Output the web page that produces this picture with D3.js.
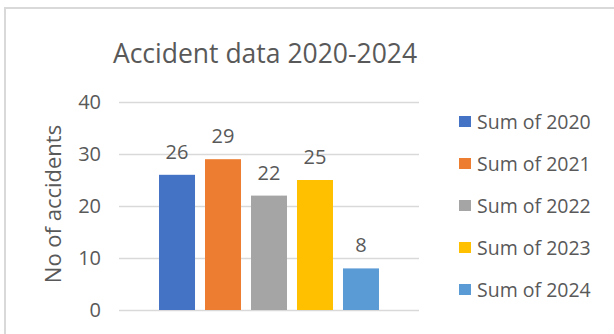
<!DOCTYPE html>
<html>
<head>
<meta charset="utf-8">
<script src="https://cdn.jsdelivr.net/npm/d3@7"></script>
<style>
html,body{margin:0;padding:0;background:#fff;overflow:hidden;}
svg{display:block;}
text{font-family:"Open Sans",sans-serif;fill:#595959;}
</style>
</head>
<body>
<svg id="chart" width="614" height="334"></svg>
<script>
const title = "Accident data 2020-2024";
const yAxisTitle = "No of accidents";
const seriesNames = ["Sum of 2020","Sum of 2021","Sum of 2022","Sum of 2023","Sum of 2024"];
const seriesValues = [26, 29, 22, 25, 8];
const seriesColors = ["#4472C4","#ED7D31","#A5A5A5","#FFC000","#5B9BD5"];
const yTicks = [0, 10, 20, 30, 40];

const svg = d3.select("#chart");

// outer chart border
svg.append("rect").attr("x",5).attr("y",8).attr("width",640).attr("height",360)
  .attr("fill","none").attr("stroke","#d9d9d9").attr("stroke-width",2);

svg.append("text").attr("x",265).attr("y",63).attr("text-anchor","middle")
  .style("font-size","26.5px").text(title);

const x = d3.scaleBand().domain(seriesNames).range([119,419])
  .paddingInner(10/46).paddingOuter(0.87);
const y = d3.scaleLinear().domain([0,40]).range([310,102]);

// gridlines
svg.append("g").selectAll("line").data(yTicks).join("line")
  .attr("x1",119).attr("x2",419)
  .attr("y1",d=>Math.round(y(d))+0.5).attr("y2",d=>Math.round(y(d))+0.5)
  .attr("stroke","#d9d9d9").attr("stroke-width",1.5);

// y axis labels
const yAxis = d3.axisLeft(y).tickValues(yTicks).tickSize(0).tickPadding(0);
const ya = svg.append("g").attr("transform","translate(101,0)").call(yAxis);
ya.select(".domain").remove();
ya.selectAll("text").style("font-size","20px").attr("fill","#595959").attr("font-family",null);

svg.append("text").attr("transform","translate(61,204) rotate(-90)")
  .attr("text-anchor","middle").style("font-size","22px").text(yAxisTitle);

// bars
svg.append("g").selectAll("rect").data(seriesValues).join("rect")
  .attr("x",(d,i)=>x(seriesNames[i])).attr("width",x.bandwidth())
  .attr("y",d=>y(d)).attr("height",d=>y(0)-y(d))
  .attr("fill",(d,i)=>seriesColors[i]);

// data labels
svg.append("g").selectAll("text").data(seriesValues).join("text")
  .attr("x",(d,i)=>x(seriesNames[i])+x.bandwidth()/2)
  .attr("y",d=>y(d)-16).attr("text-anchor","middle")
  .style("font-size","20px").text(d=>d);

// legend
const lg = svg.append("g").selectAll("g").data(seriesNames).join("g")
  .attr("transform",(d,i)=>`translate(459,${122 + i*42})`);
lg.append("rect").attr("x",0).attr("y",-6).attr("width",12).attr("height",11)
  .attr("fill",(d,i)=>seriesColors[i]);
lg.append("text").attr("x",18).attr("y",7).style("font-size","19.5px").text(d=>d);
</script>
</body>
</html>
